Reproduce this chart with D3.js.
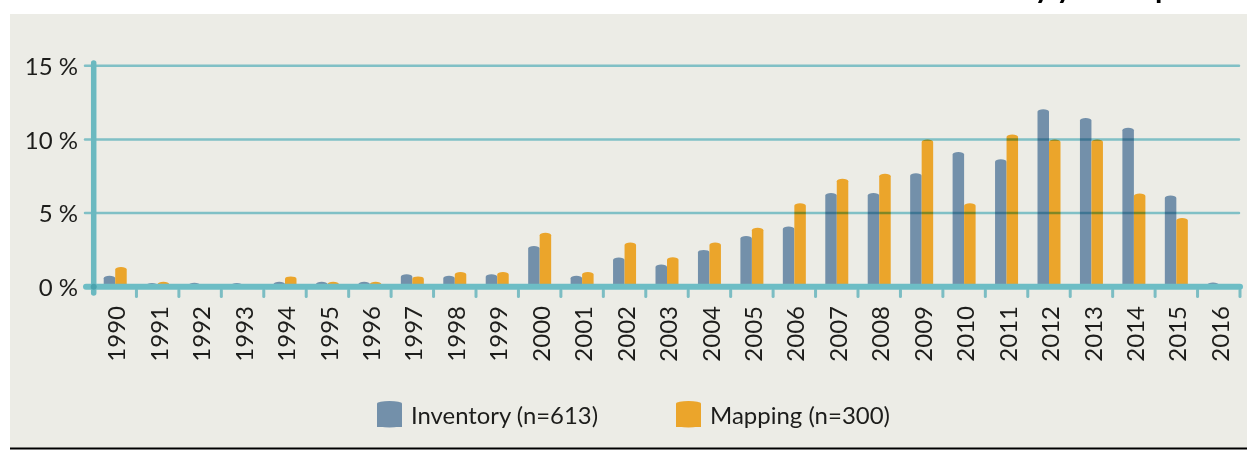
<!DOCTYPE html>
<html>
<head>
<meta charset="utf-8">
<script src="https://cdn.jsdelivr.net/npm/d3@7"></script>
<style>
  body { margin: 0; background: #ffffff; }
  svg { display: block; }
  text { font-family: Lato, "Open Sans", sans-serif; font-weight: 400; fill: #1d1d1b; }
</style>
</head>
<body>
<div id="chart"></div>
<script>

// data
var years = ["1990", "1991", "1992", "1993", "1994", "1995", "1996", "1997", "1998", "1999",
             "2000", "2001", "2002", "2003", "2004", "2005", "2006", "2007", "2008", "2009",
             "2010", "2011", "2012", "2013", "2014", "2015", "2016"];
var inventory = [0.75, 0.25, 0.27, 0.25, 0.33, 0.33, 0.33, 0.85, 0.75, 0.85,
                 2.77, 0.75, 1.98, 1.5, 2.5, 3.45, 4.08, 6.36, 6.36, 7.7,
                 9.15, 8.65, 12.05, 11.45, 10.8, 6.2, 0.28];
var mapping = [1.33, 0.33, 0, 0, 0.7, 0.33, 0.33, 0.7, 1.0, 1.0,
               3.67, 1.0, 3.0, 2.0, 3.0, 4.0, 5.67, 7.33, 7.67, 10.0,
               5.67, 10.33, 10.0, 10.0, 6.33, 4.67, 0];
var yTicks = [0, 5, 10, 15];
var seriesNames = ["Inventory (n=613)", "Mapping (n=300)"];
var seriesColors = ["#7390aa", "#eba52b"];

var width = 1247, height = 450;
var teal = "#74c8d5";

var svg = d3.select("#chart").append("svg")
            .attr("width", width)
            .attr("height", height);

// clipped title sliver at the very top
svg.append("text")
   .attr("x", 1018)
   .attr("y", -2)
   .style("font-size", "30px")
   .style("font-weight", 700)
   .style("fill", "#000")
   .text("by year of publication");

// grey panel
svg.append("rect")
   .attr("x", 10).attr("y", 14)
   .attr("width", width - 10).attr("height", 434)
   .attr("fill", "#ecece6");
svg.append("line")
   .attr("x1", 10).attr("x2", width)
   .attr("y1", 448.5).attr("y2", 448.5)
   .attr("stroke", "#000").attr("stroke-width", 2);

var x = d3.scaleBand().domain(years).range([94, 1240]);
var y = d3.scaleLinear().domain([0, 15]).range([286.7, 65.8]);
var xSub = d3.scaleBand().domain([0, 1]).range([0, 23]);

function cylinder(x0, w, yTop, yBot) {
  var ry = Math.min(2.5, yBot - yTop);
  return "M" + x0 + "," + yBot + "V" + (yTop + ry) +
         "A" + (w / 2) + "," + ry + " 0 0 1 " + (x0 + w) + "," + (yTop + ry) +
         "V" + yBot + "Z";
}

var rows = years.map(function(yr, i) { return {year: yr, vals: [inventory[i], mapping[i]]}; });

var bars = svg.append("g").attr("class", "bars");
rows.forEach(function(r) {
  var left = x(r.year) + (x.bandwidth() - 23) / 2;
  r.vals.forEach(function(v, s) {
    if (v <= 0) return;
    bars.append("path")
        .attr("d", cylinder(left + xSub(s), xSub.bandwidth(), y(v), y(0)))
        .attr("fill", seriesColors[s]);
  });
});

// gridlines, multiplied over the bars
var grid = svg.append("g").style("mix-blend-mode", "multiply");
grid.selectAll("line.grid")
    .data(yTicks.filter(function(d) { return d > 0; }))
    .enter()
    .append("line")
    .attr("class", "grid")
    .attr("x1", 85).attr("x2", 1239)
    .attr("y1", function(d) { return y(d); })
    .attr("y2", function(d) { return y(d); })
    .attr("stroke", "#8ad0dc")
    .attr("stroke-width", 2.5)
    .attr("stroke-linecap", "round");

// x tick marks at band edges
grid.selectAll("line.xtick")
    .data(years)
    .enter()
    .append("line")
    .attr("class", "xtick")
    .attr("x1", function(d) { return x(d) + x.bandwidth(); })
    .attr("x2", function(d) { return x(d) + x.bandwidth(); })
    .attr("y1", 290).attr("y2", 296.5)
    .attr("stroke", "#86cdd8")
    .attr("stroke-width", 3)
    .attr("stroke-linecap", "round");

grid.append("line")
    .attr("x1", 93.7).attr("x2", 93.7)
    .attr("y1", 63).attr("y2", 293)
    .attr("stroke", teal).attr("stroke-width", 5.5)
    .attr("stroke-linecap", "round");

// zero line, solid over the bar bottoms
svg.append("line")
   .attr("x1", 86).attr("x2", 1240)
   .attr("y1", y(0)).attr("y2", y(0))
   .attr("stroke", "#6dbdc5").attr("stroke-width", 6)
   .attr("stroke-linecap", "round");
svg.append("circle")
   .attr("cx", 93.7).attr("cy", y(0)).attr("r", 3)
   .attr("fill", "#4aa3ae");

// y labels
var yAxis = d3.axisLeft(y)
              .tickValues(yTicks)
              .tickSize(0)
              .tickPadding(0)
              .tickFormat(function(d) { return d + " %"; });
var yG = svg.append("g").attr("transform", "translate(78,0)").call(yAxis);
yG.select(".domain").remove();
yG.selectAll("text")
  .attr("dy", "0.36em")
  .style("font-size", "24px")
  .style("font-family", "Lato, sans-serif")
  .attr("fill", "#1d1d1b");

// x labels
var xAxis = d3.axisBottom(x).tickSize(0).tickPadding(0);
var xG = svg.append("g").call(xAxis);
xG.select(".domain").remove();
xG.selectAll(".tick").attr("transform", function(d) {
  return "translate(" + (x(d) + x.bandwidth() / 2 + 1.5) + ",306)";
});
xG.selectAll("text")
  .attr("transform", "rotate(-90)")
  .attr("x", 0).attr("y", 0)
  .attr("dy", "0.36em")
  .attr("text-anchor", "end")
  .style("font-size", "24px")
  .style("font-family", "Lato, sans-serif")
  .attr("fill", "#1d1d1b");

// legend
var legendX = [377, 676];
var legend = svg.append("g").attr("class", "legend");
seriesNames.forEach(function(name, i) {
  legend.append("path")
        .attr("d", cylinder(legendX[i], 25, 401, 427))
        .attr("fill", seriesColors[i]);
  legend.append("path")
        .attr("d", "M" + legendX[i] + ",425 A12.5,2.5 0 0 0 " + (legendX[i] + 25) + ",425 V427 H" + legendX[i] + "Z")
        .attr("fill", seriesColors[i]);
  legend.append("text")
        .attr("x", legendX[i] + 34)
        .attr("y", 424)
        .style("font-size", "24px")
        .attr("textLength", i == 0 ? 187 : 180)
        .attr("lengthAdjust", "spacingAndGlyphs")
        .text(name);
});

</script>
</body>
</html>
